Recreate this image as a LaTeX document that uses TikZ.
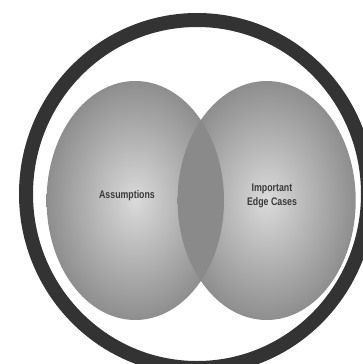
\documentclass[tikz,border=0pt]{standalone}
\usepackage{fontspec}
\newfontfamily\vennfont[FakeStretch=0.8]{Liberation Sans}
\usepackage{tikz}
\definecolor{ringgray}{HTML}{333333}
\definecolor{setedge}{HTML}{8E8E8E}
\definecolor{setcore}{HTML}{DADADA}
\definecolor{overlapgray}{HTML}{8A8A8A}
\definecolor{labelgray}{HTML}{3A3A3A}

\begin{document}
\begin{tikzpicture}[x=1pt, y=-1pt, font=\vennfont\bfseries\fontsize{11}{14}\selectfont,
    setlabel/.style={text=labelgray, align=center, inner sep=0pt}]
  % 1 unit = 1 px of the 363 x 364 frame, y running down
  \useasboundingbox (0,0) rectangle (363,364);
  \clip (0,0) rectangle (363,364);
  \fill[white] (0,0) rectangle (363,364);
  \draw[ringgray, line width=14pt] (197,194) ellipse [x radius=171, y radius=174];
  \shade[inner color=setcore, outer color=setedge] (135.3,200.5) ellipse [x radius=88.7, y radius=119.5];
  \shade[inner color=setcore, outer color=setedge] (266.7,200.5) ellipse [x radius=89, y radius=119.5];
  \begin{scope}
    \clip (135.3,200.5) ellipse [x radius=88.7, y radius=119.5];
    \fill[overlapgray] (266.7,200.5) ellipse [x radius=89, y radius=119.5];
  \end{scope}
  \node[setlabel] (assumptions) at (127,196) {Assumptions};
  \node[setlabel] (edgecases) at (272,196) {Important\\Edge Cases};
\end{tikzpicture}
\end{document}
